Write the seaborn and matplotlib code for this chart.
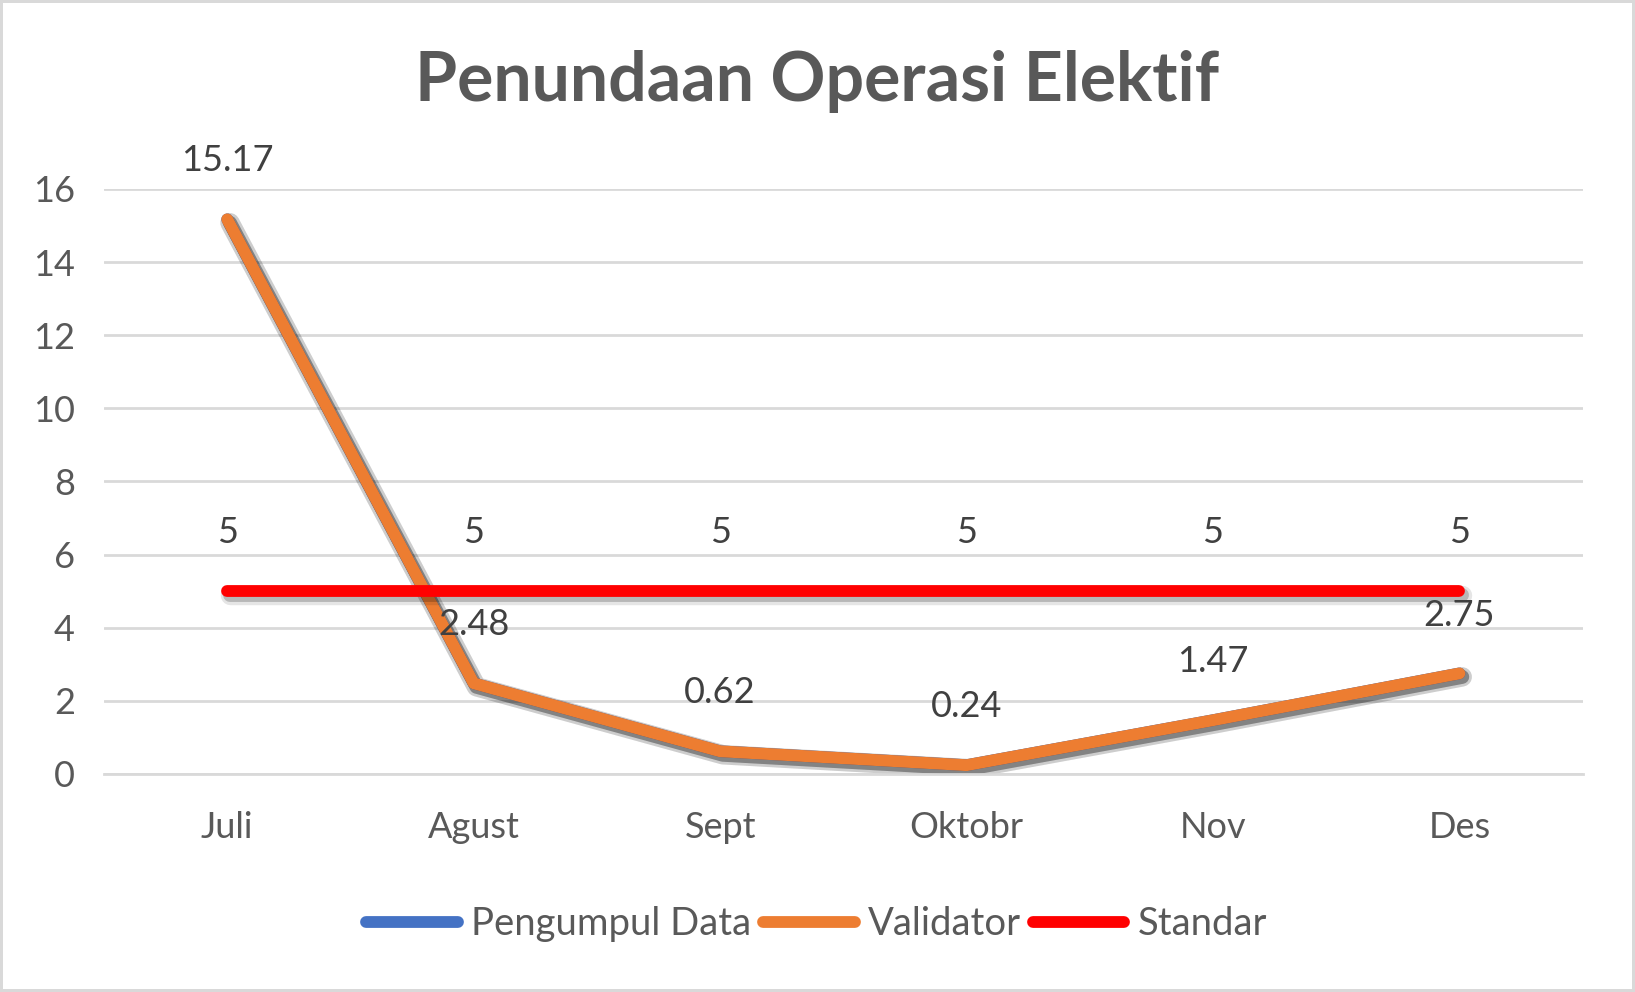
import matplotlib
matplotlib.use("Agg")
import matplotlib.pyplot as plt
import matplotlib.patheffects as pe
import seaborn as sns

# Data
months = ["Juli", "Agust", "Sept", "Oktobr", "Nov", "Des"]
pengumpul_data = [15.17, 2.48, 0.62, 0.24, 1.47, 2.75]
validator = [15.17, 2.48, 0.62, 0.24, 1.47, 2.75]
standar = [5, 5, 5, 5, 5, 5]

sns.set_style("white")
plt.rcParams["font.family"] = ["Lato", "DejaVu Sans"]

fig = plt.figure(figsize=(16.35, 9.92), dpi=100, edgecolor="#d9d9d9", linewidth=3)
ax = fig.add_axes([0.0636, 0.2198, 0.9044, 0.5897])

# soft shadow, roughly like the Excel effect
shadow = [pe.SimpleLineShadow(offset=(2, -2.5), shadow_color="black", alpha=0.10, linewidth=14),
          pe.SimpleLineShadow(offset=(2, -2.5), shadow_color="black", alpha=0.20, linewidth=10),
          pe.Normal()]

sns.lineplot(x=months, y=pengumpul_data, ax=ax, color="#4472c4", linewidth=8.5,
             label="Pengumpul Data", solid_capstyle="round", path_effects=shadow)
sns.lineplot(x=months, y=validator, ax=ax, color="#ed7d31", linewidth=8.5,
             label="Validator", solid_capstyle="round", path_effects=shadow)
sns.lineplot(x=months, y=standar, ax=ax, color="#ff0000", linewidth=8.5,
             label="Standar", solid_capstyle="round", path_effects=shadow)

# data labels
for i, v in enumerate(validator):
    ax.annotate(f"{v:g}", (i, v), xytext=(0, 42), textcoords="offset points",
                ha="center", va="center", fontsize=26, color="#404040")
for i, v in enumerate(standar):
    ax.annotate(f"{v:g}", (i, v), xytext=(0, 42), textcoords="offset points",
                ha="center", va="center", fontsize=26, color="#404040")

ax.set_xlim(-0.5, 5.5)
ax.set_ylim(0, 16)
ax.set_yticks(range(0, 17, 2))
ax.yaxis.grid(True, color="#d9d9d9", linewidth=2)
ax.set_axisbelow(True)
for s in ["top", "right", "left"]:
    ax.spines[s].set_visible(False)
ax.spines["bottom"].set_color("#d9d9d9")
ax.spines["bottom"].set_linewidth(2)
ax.tick_params(axis="x", length=0, pad=27, labelsize=26, labelcolor="#595959")
ax.tick_params(axis="y", length=0, pad=21, labelsize=26, labelcolor="#595959")
ax.set_xlabel("")
ax.set_ylabel("")

fig.text(0.5, 0.918, "Penundaan Operasi Elektif", ha="center", va="center",
         fontsize=49, fontweight="bold", color="#595959")

leg = ax.legend(loc="center", bbox_to_anchor=(0.482, -0.257), ncol=3, frameon=False,
                fontsize=27.5, handlelength=2.4, handletextpad=0.35, columnspacing=0.3,
                labelcolor="#595959")
for h in leg.get_lines():
    h.set_path_effects([pe.Normal()])

fig.savefig("out.png", dpi=100, edgecolor=fig.get_edgecolor())
